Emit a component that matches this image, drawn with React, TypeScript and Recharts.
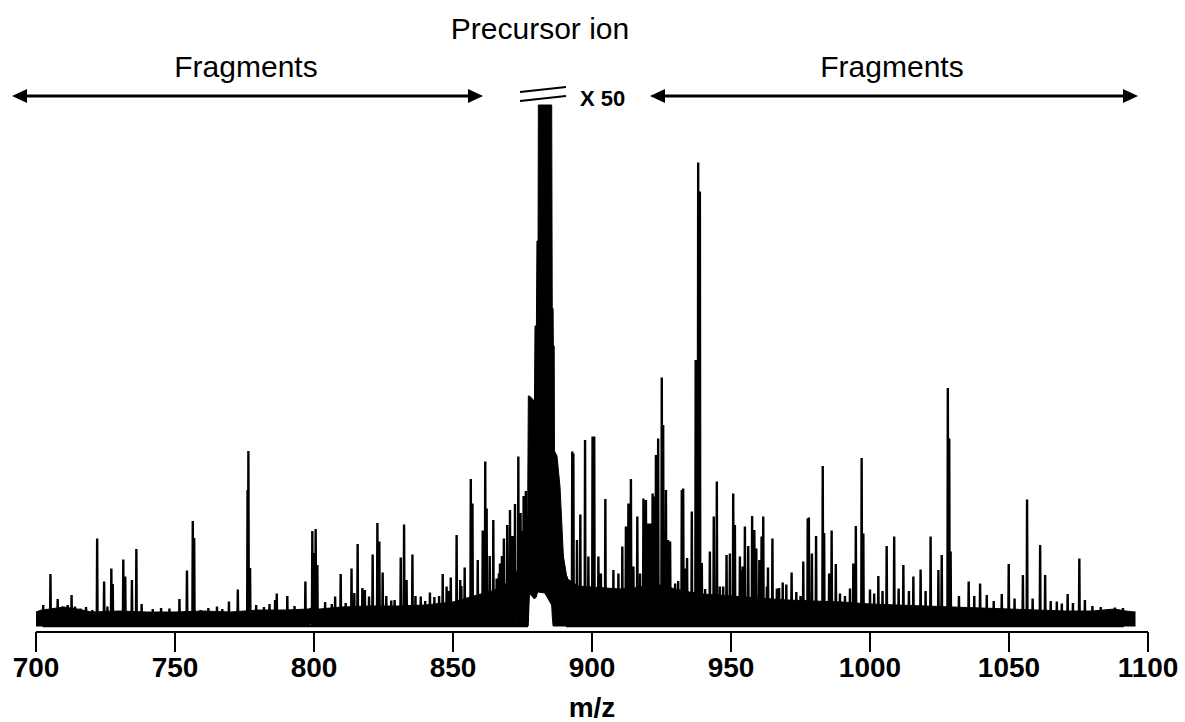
import { ComposedChart, Area, Line, XAxis, YAxis, Customized } from "recharts";

// noise envelope of the spectrum (m/z, lower and upper edge of the dense trace)
const bandMz = [
  700, 702, 705, 710, 715, 720, 730, 740, 750, 760, 770, 780, 790, 798, 800, 802, 810, 820, 830, 840,
  850, 855, 860, 864, 868, 870, 872, 874, 876, 876.8, 877.1, 877.5, 879.3, 879.5, 880.0, 880.2, 880.6,
  880.7, 883, 885.5, 885.7, 886.0, 886.1, 886.4, 886.5, 887.4, 888.5, 889.7, 891, 895, 900, 905, 910,
  915, 920, 925, 930, 935, 940, 950, 960, 970, 980, 990, 1000, 1010, 1020, 1030, 1040, 1050, 1060,
  1070, 1080, 1088, 1092, 1095.5,
];
const bandLow = [
  0, 0, 0, 0, 0, 0, 0, 0, 0, 0, 0, 0, 0, 0, 1.2, 0, 0, 0, 0, 0,
  0, 0, 0, 0, 0.5, 0.6, 0.6, 0.8, 0.8, 0.8, 0.8, 6.5, 5.4, 5.6, 5.8, 6.4, 6.8,
  6.8, 6.6, 4.2, 2, 0, 0, 0, 0, 0, 0, 0, 0, 0, 0, 0, 0,
  0, 0, 0, 0, 0, 0, 0, 0, 0, 0, 0, 0, 0, 0, 0, 0, 0, 0,
  0, 0, 0, 0, 0,
];
const bandHigh = [
  2.8, 3.2, 3.4, 3.8, 3.4, 2.8, 3, 2.8, 2.8, 3, 2.8, 3.2, 3.2, 3.4, 3.8, 3.4, 3.8, 4, 4, 4.2,
  4.8, 5.6, 6.4, 7, 8, 9, 10, 12, 14, 18, 46, 46, 45, 60, 60, 77, 77,
  104.2, 104.2, 104.2, 63.5, 63.5, 56, 56, 35, 34, 27.8, 14, 9.5, 8, 7.8, 7.6, 7.4,
  7.6, 8, 8.2, 7.4, 6.8, 6.4, 6, 5.6, 5.2, 5, 4.8, 4.4, 4.2, 4, 3.8, 3.6, 3.4, 3.2,
  3, 3, 3.4, 3, 2.8,
];

// fragment peaks below the precursor
const lowPeakMz = [
  702.6, 705.2, 707.8, 709.5, 711.4, 712.8, 714, 716, 718, 720.3, 722, 724.5, 725.7, 727.1, 727.6,
  731.4, 732.1, 734.5, 736.1, 738, 742, 745, 748, 751.6, 754.3, 756.4, 756.9, 759.2, 762, 765.1, 767,
  769.4, 772.6, 776.1, 776.4, 777, 779.2, 782, 784, 786, 786.6, 790.4, 793, 796.9, 799.4, 799.9, 800.6,
  801.2, 804, 806.4, 807.6, 809.6, 811.4, 813.5, 814.5, 815.7, 817.4, 818.3, 819.8, 821.1, 822.8,
  823.5, 824.7, 826, 827.8, 829, 831.2, 832.4, 833.3, 835.4, 836.5, 838.4, 840, 841.7, 843.3, 845,
  846.3, 847.7, 848.5, 849.2, 851.3, 852.6, 853, 854.2, 856.4, 857, 858.9, 860.7, 861.6, 862.1, 863.2,
  864.5, 865.7, 866.5, 866.9, 867.6, 868.3, 869.5, 870.5, 871.4, 872.3, 873.5, 874.3, 874.9, 875.4,
  876.2, 876.7,
];
const lowPeakInt = [
  4.2, 10.4, 5.4, 3.9, 4.2, 6.2, 3.9, 3.5, 3.8, 3.2, 17.5, 8.9, 3.9, 11.5, 8.4,
  13.3, 9.9, 9.2, 15.4, 4.4, 3.4, 3.6, 3.5, 5.4, 11.1, 21, 17.6, 3.2, 3.6, 3.9, 3.4,
  4.9, 7.3, 27.2, 35, 11.6, 4.2, 3.8, 4.4, 5.2, 6.5, 6, 4, 8.9, 19, 14.6, 19.4,
  12.2, 4.8, 4.4, 5.9, 10.4, 4.6, 11.5, 6.6, 16.4, 7.6, 7.2, 5.9, 14.3, 20.6,
  16.9, 10.7, 6, 5.1, 5.2, 13.7, 20.3, 9.2, 14.3, 6, 5.9, 5, 6.7, 5.8, 6,
  10.4, 7.9, 7, 9.7, 18.2, 9.2, 8, 11.7, 29.4, 24.5, 13.2, 19.1, 32.9, 23.5, 14,
  21.2, 9.5, 10.5, 12.5, 14, 17.5, 20.2, 23.2, 18, 24.4, 33.9, 22.6, 19, 26,
  27, 22,
];

// fragment peaks above the precursor
const highPeakMz = [
  890.9, 892.9, 893.3, 894.6, 895.8, 897.5, 898.7, 900.2, 900.8, 902.3, 903.2, 904.8, 906.3, 907.7,
  909.5, 910.9, 912.2, 913.1, 914, 914.9, 916.3, 917.3, 918.5, 919.4, 920.2, 920.9, 921.8, 922.4, 923,
  923.8, 925.1, 925.6, 926.6, 927.4, 928.1, 929.9, 931, 932.3, 932.8, 933.5, 934.2, 935.9, 937.3, 938.2,
  938.8, 939.5, 940.7, 942.4, 943.8, 944.9, 946, 947.2, 948.4, 949.6, 950.8, 951.4, 953.2, 953.8,
  954.2, 955, 956.2, 957.6, 958.4, 959.1, 960.2, 961, 961.6, 962.9, 963.3, 964.9, 966.5, 967.3, 968.6,
  969.9, 971.8, 973.5, 975, 976, 977.6, 978, 979.1, 980.6, 983, 983.5, 985.3, 986.2, 987.7, 989.2,
  991, 992.8, 994, 994.9, 997, 997.6, 1000, 1001.5, 1003, 1004.5, 1006, 1008.7, 1010.3, 1012, 1014,
  1015.6, 1018.2, 1020, 1021.8, 1024.6, 1025.8, 1028, 1028.5, 1029, 1032, 1035.5, 1037.5, 1039.6, 1042,
  1044.5, 1047.4, 1049.9, 1052, 1055, 1056.5, 1058.5, 1061.2, 1063, 1065, 1067.2, 1069, 1071.1, 1073,
  1075.3, 1077.3, 1080, 1083, 1088.1, 1091,
];
const highPeakInt = [
  9.9, 34.9, 34.5, 17.2, 22.3, 37.2, 13.9, 37.9, 37.9, 13.9, 10.5, 25.4, 7.2, 11.2,
  10.5, 15.9, 19.9, 24.5, 29.4, 11.9, 21.9, 10.5, 25.5, 25.2, 20.5, 20.5, 26.5, 25.9, 34.2,
  37.5, 49.7, 40.2, 27.2, 17.2, 16.9, 8.5, 9, 27.2, 27.5, 11.5, 13.6, 22.9, 53.2, 92.7,
  86.9, 12.6, 7.4, 14.9, 21.9, 28.9, 7.9, 7.9, 14.2, 14.5, 26.5, 20.2, 13.9, 11.2,
  11.9, 19.9, 16, 22, 19.2, 15.5, 13.2, 17.9, 21.9, 7.9, 11.7, 17.5, 7.5, 7.6, 8.7,
  8.3, 10.7, 6.8, 6, 12.9, 21.5, 21.7, 14.5, 18, 32, 18.6, 10.5, 19.1, 12.4, 6.5,
  6, 7.5, 12.5, 20, 33.6, 18.5, 7.3, 6.5, 10, 7, 16, 17.9, 7.5, 12.2, 7,
  9.9, 11.3, 7, 17.9, 11.2, 14.2, 47.6, 37.5, 14.9, 6, 8.9, 6, 8.5, 6.2,
  5, 6.4, 12.4, 5.5, 10.2, 25.3, 5.5, 16.2, 10.2, 5, 4.9, 4.5, 6.4, 4.6,
  13.5, 5.2, 4, 3.8, 3.7, 3.6,
];

const xTicks = [700, 750, 800, 850, 900, 950, 1000, 1050, 1100];

const FONT = "'Liberation Sans', Arial, sans-serif";

const bandData = bandMz.map((mz, i) => ({ mz, range: [bandLow[i], bandHigh[i]] }));

// each peak becomes a thin spike: baseline - top - baseline
const toSpikes = (mzs: number[], ints: number[]) =>
  mzs.flatMap((mz, i) => [
    { mz: mz - 0.15, v: 0 },
    { mz, v: ints[i] },
    { mz: mz + 0.15, v: 0 },
  ]);

const lowSpikes = toSpikes(lowPeakMz, lowPeakInt);
const highSpikes = toSpikes(highPeakMz, highPeakInt);

const Annotations = () => (
  <g>
    <text x={540} y={39} textAnchor="middle" fontSize={30} fontFamily={FONT} fill="#000">
      Precursor ion
    </text>
    <text x={246} y={77} textAnchor="middle" fontSize={30} fontFamily={FONT} fill="#000">
      Fragments
    </text>
    <text x={892} y={77} textAnchor="middle" fontSize={30} fontFamily={FONT} fill="#000">
      Fragments
    </text>
    {/* left double arrow */}
    <line x1={24} y1={96} x2={471} y2={96} stroke="#000" strokeWidth={3} />
    <polygon points="12,96 27,89 27,103" fill="#000" />
    <polygon points="483,96 468,89 468,103" fill="#000" />
    {/* right double arrow */}
    <line x1={662} y1={96} x2={1126} y2={96} stroke="#000" strokeWidth={3} />
    <polygon points="650,96 665,89 665,103" fill="#000" />
    <polygon points="1138,96 1123,89 1123,103" fill="#000" />
    {/* axis break marks */}
    <line x1={520} y1={92} x2={566} y2={87} stroke="#000" strokeWidth={2} />
    <line x1={520} y1={101} x2={566} y2={96} stroke="#000" strokeWidth={2} />
    <text x={580} y={106} fontSize={22} fontWeight="bold" fontFamily={FONT} fill="#000">
      X 50
    </text>
  </g>
);

export default function App() {
  return (
    <div style={{ position: "absolute", left: 0, top: 0, background: "#fff" }}>
      <ComposedChart width={1185} height={722} margin={{ top: 100, right: 37, bottom: 0, left: 36 }}>
        <XAxis
          dataKey="mz"
          type="number"
          domain={[700, 1100]}
          ticks={xTicks}
          interval={0}
          allowDataOverflow
          height={90}
          tickSize={20}
          tickMargin={5}
          axisLine={{ stroke: "#000", strokeWidth: 2 }}
          tickLine={{ stroke: "#000", strokeWidth: 2 }}
          tick={{ fill: "#000", fontSize: 28, fontWeight: "bold", fontFamily: FONT }}
          label={{
            value: "m/z",
            position: "insideBottom",
            offset: 5,
            fill: "#000",
            fontSize: 28,
            fontWeight: "bold",
            fontFamily: FONT,
          }}
        />
        <YAxis type="number" domain={[-1.2, 105.2]} allowDataOverflow hide />
        <Area
          data={bandData}
          dataKey="range"
          type="linear"
          stroke="#000"
          strokeWidth={1}
          fill="#000"
          fillOpacity={1}
          dot={false}
          activeDot={false}
          isAnimationActive={false}
        />
        <Line
          data={lowSpikes}
          dataKey="v"
          type="linear"
          stroke="#000"
          strokeWidth={2.4}
          dot={false}
          activeDot={false}
          isAnimationActive={false}
        />
        <Line
          data={highSpikes}
          dataKey="v"
          type="linear"
          stroke="#000"
          strokeWidth={2.4}
          dot={false}
          activeDot={false}
          isAnimationActive={false}
        />
        <Customized component={Annotations} />
      </ComposedChart>
    </div>
  );
}
